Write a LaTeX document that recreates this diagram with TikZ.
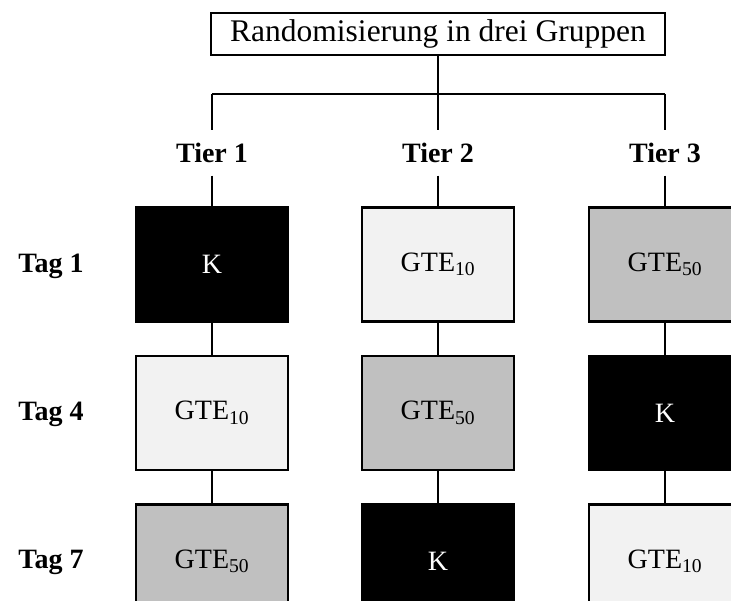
\documentclass[tikz,border=0pt]{standalone}
\usepackage{fontspec}
\setmainfont{Liberation Serif}
\definecolor{lightbox}{HTML}{F2F2F2}
\definecolor{midbox}{HTML}{C0C0C0}
\begin{document}
\begin{tikzpicture}[x=1pt,y=-1pt,
  line width=2.2pt,
  titlebox/.style={draw, minimum width=454pt, minimum height=42pt, inner sep=0pt,
    font=\fontsize{31.5}{36}\selectfont},
  grouplabel/.style={minimum height=43pt, inner sep=0pt, font=\fontsize{28}{32}\selectfont\bfseries},
  daylabel/.style={inner sep=0pt, font=\fontsize{28}{32}\selectfont\bfseries},
  cell/.style={draw, minimum width=152pt, minimum height=114pt, inner sep=0pt,
    font=\fontsize{28}{32}\selectfont},
  kbox/.style={cell, fill=black, text=white},
  lobox/.style={cell, fill=lightbox},
  hibox/.style={cell, fill=midbox}
]
\useasboundingbox (0,0) rectangle (731,601);
\clip (0,0) rectangle (731,601);
% top
\node[titlebox] (top) at (438,34) {Randomisierung in drei Gruppen};
\coordinate (hl) at (212,94);
\coordinate (hm) at (438,94);
\coordinate (hr) at (665,94);
% group labels
\node[grouplabel] (t1) at (212,153) {Tier 1};
\node[grouplabel] (t2) at (438,153) {Tier 2};
\node[grouplabel] (t3) at (665,153) {Tier 3};
% day labels
\node[daylabel] (d1) at (51,266) {Tag 1};
\node[daylabel] (d4) at (51,414) {Tag 4};
\node[daylabel] (d7) at (51,562) {Tag 7};
% cells
\node[kbox]  (b11) at (212,264.5) {K};
\node[lobox] (b12) at (438,264.5) {GTE\textsubscript{10}};
\node[hibox] (b13) at (665,264.5) {GTE\textsubscript{50}};
\node[lobox] (b21) at (212,413) {GTE\textsubscript{10}};
\node[hibox] (b22) at (438,413) {GTE\textsubscript{50}};
\node[kbox]  (b23) at (665,413) {K};
\node[hibox] (b31) at (212,561.5) {GTE\textsubscript{50}};
\node[kbox]  (b32) at (438,561.5) {K};
\node[lobox] (b33) at (665,561.5) {GTE\textsubscript{10}};
% connectors
\draw (top.south) -- (hm);
\draw (hl) -- (hr);
\draw (hl) -- (t1.north);
\draw (hm) -- (t2.north);
\draw (hr) -- (t3.north);
\draw (t1.south) -- (b11.north);
\draw (t2.south) -- (b12.north);
\draw (t3.south) -- (b13.north);
\draw (b11.south) -- (b21.north);
\draw (b12.south) -- (b22.north);
\draw (b13.south) -- (b23.north);
\draw (b21.south) -- (b31.north);
\draw (b22.south) -- (b32.north);
\draw (b23.south) -- (b33.north);
\end{tikzpicture}
\end{document}
